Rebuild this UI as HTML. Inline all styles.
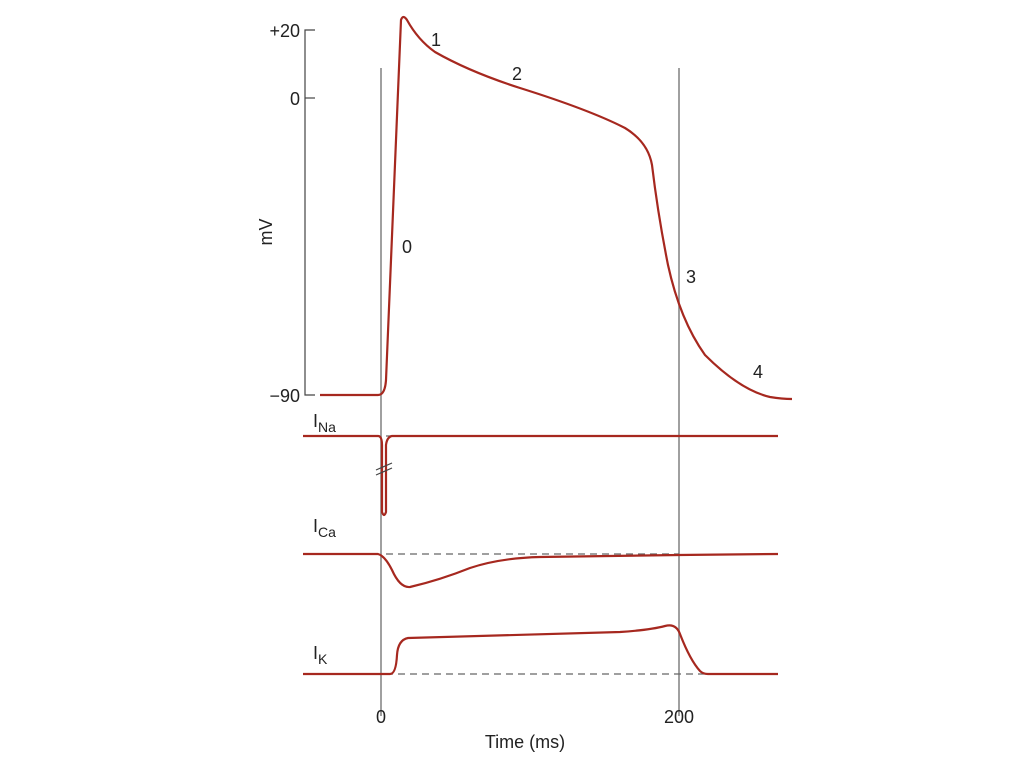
<!DOCTYPE html>
<html><head><meta charset="utf-8"><style>
html,body{margin:0;padding:0;background:#fff;}
svg{display:block;}
text{font-family:"Liberation Sans",sans-serif;fill:#222;}
</style></head><body>
<svg width="1024" height="767" viewBox="0 0 1024 767">
<g stroke="#888" stroke-width="1.6" fill="none">
<line x1="381" y1="68" x2="381" y2="716"/>
<line x1="679" y1="68" x2="679" y2="716"/>
</g>
<g stroke="#444" stroke-width="1.2" fill="none">
<polyline points="315,30 305,30 305,395 315,395"/>
<line x1="305" y1="98" x2="315" y2="98"/>
</g>
<g stroke="#666" stroke-width="1.2" stroke-dasharray="7,5" fill="none">
<line x1="386" y1="436" x2="679" y2="436"/>
<line x1="386" y1="554" x2="679" y2="554"/>
<line x1="386" y1="674" x2="705" y2="674"/>
</g>
<g stroke="#a6281f" stroke-width="2.2" fill="none" stroke-linejoin="round">
<path d="M320,395 L378,395 Q385,395 386,380 L401,20 Q403,14 407,20 Q418,40 435,52 Q470,72 520,88 Q590,110 625,128 Q648,142 652,165 Q658,215 668,265 Q680,320 705,355 Q740,390 770,397 Q782,399 792,399"/>
<path d="M303,436 L378,436 Q382,436 382,445 L382,512 Q384,518 386,512 L386,445 Q387,437 392,436 L778,436"/>
<path d="M303,554 L378,554 Q385,556 392,570 Q400,588 410,587 Q440,580 470,568 Q500,558 540,557 L679,555 L778,554"/>
<path d="M303,674 L390,674 Q396,674 397,655 Q398,640 408,638 L620,632 Q650,630 665,626 Q676,623 680,634 Q690,660 700,671 Q703,674 708,674 L778,674"/>
</g>
<g stroke="#444" stroke-width="1.2">
<line x1="376" y1="470" x2="392" y2="463"/>
<line x1="376" y1="475" x2="392" y2="468"/>
</g>
<g font-size="18">
<text x="300" y="37" text-anchor="end">+20</text>
<text x="300" y="105" text-anchor="end">0</text>
<text x="300" y="402" text-anchor="end">−90</text>
<text x="431" y="46">1</text>
<text x="512" y="80">2</text>
<text x="402" y="253">0</text>
<text x="686" y="283">3</text>
<text x="753" y="378">4</text>
<text x="381" y="723" text-anchor="middle">0</text>
<text x="679" y="723" text-anchor="middle">200</text>
<text x="525" y="748" text-anchor="middle">Time (ms)</text>
<text transform="translate(272,232) rotate(-90)" text-anchor="middle">mV</text>
<text x="313" y="427">I<tspan font-size="14" dy="5">Na</tspan></text>
<text x="313" y="532">I<tspan font-size="14" dy="5">Ca</tspan></text>
<text x="313" y="659">I<tspan font-size="14" dy="5">K</tspan></text>
</g>
</svg>
</body></html>
